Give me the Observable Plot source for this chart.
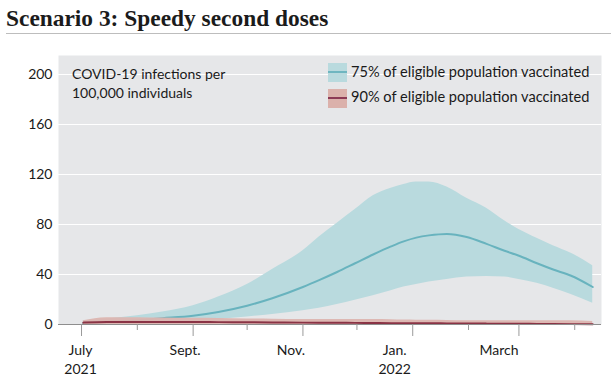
<!DOCTYPE html>
<html>
<head>
<meta charset="utf-8">
<script src="https://cdn.jsdelivr.net/npm/d3@7"></script>
<script src="https://cdn.jsdelivr.net/npm/@observablehq/plot@0.6"></script>
<style>
  html, body { margin: 0; padding: 0; background: #fff; }
  #wrap { position: relative; width: 611px; height: 383px; overflow: hidden; font-family: Lato, "Noto Sans", sans-serif; color: #1a1a1a; }
  #title { position: absolute; left: 6px; top: 7px; font: bold 23.4px/23px "Liberation Serif", "DejaVu Serif", serif; color: #1b1b1b; white-space: nowrap; }
  #rule { position: absolute; left: 6px; top: 33px; width: 605px; height: 1px; background: #bdbdbd; }
  #chart { position: absolute; left: 0; top: 34px; }
  .note { position: absolute; font-size: 14px; line-height: 19px; white-space: nowrap; color: #1a1a1a; }
  .leg { font-size: 14.6px; }
  .sw { position: absolute; width: 19px; height: 19px; }
  .sw i { position: absolute; left: 0; right: 0; top: 8.5px; height: 2px; }
</style>
</head>
<body>
<div id="wrap">
  <div id="title">Scenario 3: Speedy second doses</div>
  <div id="rule"></div>
  <div id="chart"></div>
  <div class="note" style="left:72px; top:64px;">COVID-19 infections per<br>100,000 individuals</div>
  <div class="sw" style="left:328px; top:62.5px; background:#b9dade;"><i style="background:#6fb6c0;"></i></div>
  <div class="note leg" style="left:351px; top:61.5px;">75% of eligible population vaccinated</div>
  <div class="sw" style="left:328px; top:88.5px; background:#dbb1ab;"><i style="background:#8c3a55;"></i></div>
  <div class="note leg" style="left:351px; top:87px;">90% of eligible population vaccinated</div>
</div>
<script>
// ---- data ----
const dates = ["2021-07-02","2021-07-15","2021-08-01","2021-08-15","2021-09-01","2021-09-15",
  "2021-10-01","2021-10-15","2021-11-01","2021-11-10","2021-11-20","2021-11-30",
  "2021-12-10","2021-12-20","2021-12-27","2022-01-03","2022-01-10","2022-01-20","2022-01-31",
  "2022-02-11","2022-02-21","2022-03-01","2022-03-11","2022-03-20","2022-03-30","2022-04-11"];
const vac75Mid  = [1, 2, 3.5, 5, 7, 10, 15, 21, 30, 35.5, 42, 49, 56, 62.5, 66.5, 69.5, 71.3, 72.5, 70, 64.5, 59, 55, 49, 44, 39, 30];
const vac75Low  = [0, 0.5, 1, 1.5, 2.5, 4, 6, 8, 11, 13, 16, 19.5, 23, 27, 30, 32, 34, 36, 38, 38.5, 38, 36, 33, 29, 24, 17];
const vac75High = [3, 4.5, 7, 10, 15, 22, 32, 44, 59, 70, 81, 92, 103, 109, 112, 114, 114, 110, 101, 93, 83, 76, 69, 63, 57, 47];
const vac90Mid  = [1.5, 2, 2, 2, 2, 1.9, 1.8, 1.7, 1.5, 1.5, 1.4, 1.3, 1.2, 1.1, 1.1, 1, 1, 0.9, 0.8, 0.7, 0.7, 0.6, 0.5, 0.4, 0.3, 0.2];
const vac90Low  = [0, 0, 0, 0, 0, 0, 0, 0, 0, 0, 0, 0, 0, 0, 0, 0, 0, 0, 0, 0, 0, 0, 0, 0, 0, 0];
const vac90High = [3, 5.5, 5.5, 5.2, 5, 4.8, 4.5, 4.3, 4, 4, 4, 4, 4, 3.8, 3.6, 3.5, 3.4, 3.3, 3, 3, 3, 3, 3, 3, 3, 2.5];
const yTicks = [0, 40, 80, 120, 160, 200];
const majorTicks = ["2021-07-01","2021-09-01","2021-11-01","2022-01-01","2022-03-01"];
const minorTicks = ["2021-08-01","2021-10-01","2021-12-01","2022-02-01","2022-04-01"];
const tickLabels = ["July\n2021","Sept.","Nov.","Jan.\n2022","March"];

const parse = s => new Date(s + "T00:00:00Z");
const rows = dates.map((d, i) => ({
  date: parse(d),
  m75: vac75Mid[i], l75: vac75Low[i], h75: vac75High[i],
  m90: vac90Mid[i], l90: vac90Low[i], h90: vac90High[i]
}));
const majors = majorTicks.map(parse);
const minors = minorTicks.map(parse);
const labelShift = [-1, -8, -12, -18, -20];

const labelMarks = tickLabels.map((t, i) =>
  Plot.text([{x: majors[i], t}], {
    x: "x", text: "t", frameAnchor: "bottom", lineAnchor: "top",
    dy: 17, dx: labelShift[i], lineHeight: 1.36, fontSize: 14, fill: "#1a1a1a"
  })
);

const chart = Plot.plot({
  width: 611,
  height: 349,
  marginLeft: 58,
  marginRight: 10,
  marginTop: 21,
  marginBottom: 59,
  style: { fontFamily: "Lato, 'Noto Sans', sans-serif", fontSize: "14px", background: "transparent", color: "#1a1a1a" },
  x: { type: "utc", domain: [new Date("2021-06-18T05:00:00Z"), new Date("2022-04-15T21:00:00Z")] },
  y: { domain: [0, 215.2] },
  marks: [
    Plot.frame({ fill: "#e6e7e9", stroke: null }),
    Plot.gridY(yTicks.filter(d => d > 0), { stroke: "#ffffff", strokeOpacity: 1, strokeWidth: 1 }),
    Plot.areaY(rows, { x: "date", y1: "l75", y2: "h75", fill: "#b9dade", curve: "monotone-x" }),
    Plot.lineY(rows, { x: "date", y: "m75", stroke: "#68b3be", strokeWidth: 2, curve: "monotone-x" }),
    Plot.areaY(rows, { x: "date", y1: "l90", y2: "h90", fill: "#dcb5b0", fillOpacity: 0.95, curve: "monotone-x" }),
    Plot.lineY(rows, { x: "date", y: "m90", stroke: "#8a3345", strokeWidth: 2, curve: "monotone-x" }),
    Plot.ruleY([0], { stroke: "#8e8e8e", strokeWidth: 1 }),
    Plot.axisY(yTicks, { tickSize: 0, tickPadding: 6, fontSize: 14, label: null, fill: "#1a1a1a" }),
    Plot.axisX(majors, { tickSize: 12, tickFormat: () => "", label: null, stroke: "#9a9a9a" }),
    Plot.axisX(minors, { tickSize: 6, tickFormat: () => "", label: null, stroke: "#9a9a9a" }),
    ...labelMarks
  ]
});
document.getElementById("chart").appendChild(chart);
</script>
</body>
</html>
